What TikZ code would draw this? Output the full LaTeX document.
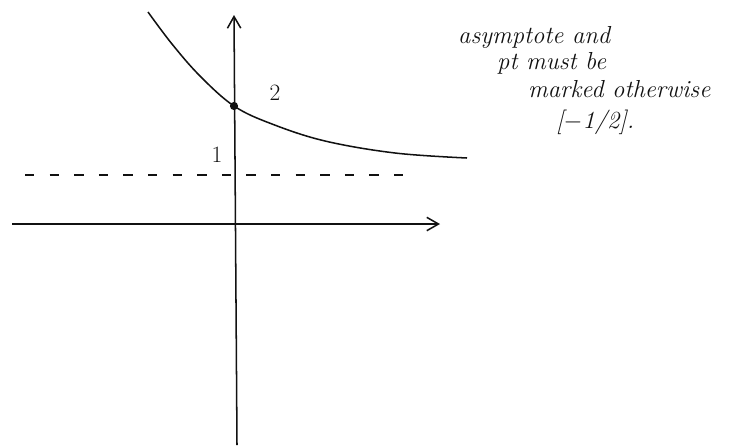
\documentclass[tikz,border=0pt]{standalone}
\usepackage{tikz}
\usetikzlibrary{arrows.meta,positioning,calc}
\usepackage{xcolor}
\definecolor{ink}{HTML}{111111}

\begin{document}
\begin{tikzpicture}[x=0.03cm, y=-0.03cm,
  axisline/.style={-{Straight Barb[length=3.5mm, width=4mm]}, line width=1.3pt, ink},
  curveline/.style={line width=1.3pt, ink},
  asym/.style={dashed, dash pattern=on 8pt off 13pt, line width=1pt, ink},
  note/.style={font=\fontsize{21}{21}\selectfont\itshape, ink, inner sep=0pt, anchor=west},
  lbl/.style={font=\fontsize{20}{20}\selectfont, ink, inner sep=0pt}
]
  \useasboundingbox (0,0) rectangle (733,445);
  % axes
  \coordinate (xleft) at (12,224);
  \coordinate (xright) at (440,224);
  \coordinate (ybottom) at (237,445);
  \coordinate (ytop) at (234,15);
  \draw[axisline] (xleft) -- (xright);
  \draw[axisline] (ybottom) -- (ytop);
  % asymptote
  \coordinate (aleft) at (25,175);
  \coordinate (aright) at (418,175);
  \draw[asym] (aleft) -- (aright);
  % curve and marked point
  \draw[curveline] plot[smooth, tension=0.6] coordinates {(148,12) (172,44) (200,76) (234,106) (272,124) (325,141) (395,153) (467,158)};
  \node[circle, fill=ink, inner sep=0pt, minimum size=7pt] (pt) at (234,106) {};
  \node[lbl] (two) at (275,93) {2};
  \node[lbl] (one) at (217,155) {1};
  % remark
  \node[note] (rem1) at (458,37) {asymptote and};
  \node[note] (rem2) at (497,63) {pt must be};
  \node[note] (rem3) at (528,89) {marked otherwise};
  \node[note] (rem4) at (556,122) {[$-$1/2].};
\end{tikzpicture}
\end{document}
